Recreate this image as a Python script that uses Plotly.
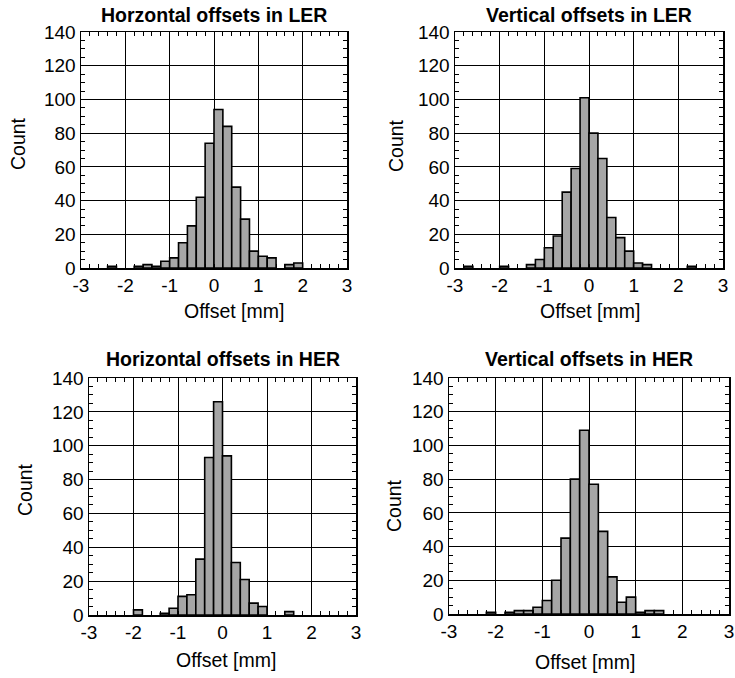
import plotly.graph_objects as go

# bin left edges (mm) and counts, bin width 0.2 mm
ler_h_edges = [-2.4, -1.8, -1.6, -1.4, -1.2, -1.0, -0.8, -0.6, -0.4, -0.2, 0.0, 0.2, 0.4, 0.6, 0.8, 1.0, 1.2, 1.6, 1.8]
ler_h_counts = [1, 1, 2, 1, 4, 6, 15, 25, 42, 74, 94, 84, 48, 29, 10, 7, 6, 2, 3]

ler_v_edges = [-2.8, -2.0, -1.4, -1.2, -1.0, -0.8, -0.6, -0.4, -0.2, 0.0, 0.2, 0.4, 0.6, 0.8, 1.0, 1.2, 2.2]
ler_v_counts = [1, 1, 2, 5, 12, 19, 45, 59, 101, 80, 65, 30, 18, 10, 3, 2, 1]

her_h_edges = [-2.0, -1.4, -1.2, -1.0, -0.8, -0.6, -0.4, -0.2, 0.0, 0.2, 0.4, 0.6, 0.8, 1.4]
her_h_counts = [3, 1, 4, 11, 12, 33, 93, 126, 94, 31, 21, 7, 5, 2]

her_v_edges = [-2.2, -1.8, -1.6, -1.4, -1.2, -1.0, -0.8, -0.6, -0.4, -0.2, 0.0, 0.2, 0.4, 0.6, 0.8, 1.0, 1.2, 1.4]
her_v_counts = [1, 1, 2, 2, 4, 8, 20, 45, 80, 109, 77, 49, 22, 7, 10, 1, 2, 2]

BIN_W = 0.2
titles = ["Horzontal offsets in LER", "Vertical offsets in LER",
          "Horizontal offsets in HER", "Vertical offsets in HER"]
x_tick_vals = [-3, -2, -1, 0, 1, 2, 3]
y_tick_vals = [0, 20, 40, 60, 80, 100, 120, 140]
x_title = "Offset [mm]"
y_title = "Count"

panels = [(ler_h_edges, ler_h_counts), (ler_v_edges, ler_v_counts),
          (her_h_edges, her_h_counts), (her_v_edges, her_v_counts)]

W, H = 735, 678


def fx(px):
    return px / W


def fy(py):
    return 1 - py / H


# plot areas in window pixels: (left, right, top, bottom)
areas = [(81, 347, 32, 268), (455, 723, 32, 268),
         (89, 356, 378, 615), (449, 729, 378, 614)]

FONT = "Liberation Sans, Arial, sans-serif"
TICK_SIZE = 19
TITLE_SIZE = 19.5
AXT_SIZE = 19.5
fig = go.Figure()
layout = dict(template="none", width=W, height=H, margin=dict(l=0, r=0, t=0, b=0),
              paper_bgcolor="white", plot_bgcolor="white", showlegend=False,
              font=dict(family=FONT, color="black", size=TICK_SIZE))
annotations = []

# axis title positions (window pixels)
xt_pos = [(234, 311), (590, 311), (226, 660), (585, 662)]
yt_pos = [(18, 144), (396, 146), (25, 490), (394, 505)]
title_y = [15, 15, 359, 359]

for i, ((edges, counts), (l, r, t, b)) in enumerate(zip(panels, areas)):
    n = "" if i == 0 else str(i + 1)
    centers = [e + BIN_W / 2 for e in edges]
    fig.add_trace(go.Bar(x=centers, y=counts, width=BIN_W,
                         marker=dict(color="#a6a6a6", line=dict(color="black", width=1.6)),
                         xaxis="x" + n, yaxis="y" + n))
    common = dict(showline=True, linecolor="black", linewidth=1.5, mirror="allticks",
                  showgrid=True, gridcolor="black", gridwidth=1, zeroline=False,
                  ticks="inside", ticklen=4, tickcolor="black", automargin=False,
                  tickfont=dict(size=TICK_SIZE, family=FONT, color="black"))
    layout["xaxis" + n] = dict(domain=[fx(l), fx(r)], anchor="y" + n, range=[-3, 3],
                               tickvals=x_tick_vals, ticktext=[str(v) for v in x_tick_vals],
                               minor=dict(dtick=BIN_W, ticks="inside", ticklen=4, tickcolor="black", showgrid=False),
                               **common)
    layout["yaxis" + n] = dict(domain=[fy(b), fy(t)], anchor="x" + n, range=[0, 140],
                               tickvals=y_tick_vals, ticktext=[str(v) for v in y_tick_vals],
                               minor=dict(dtick=5, ticks="inside", ticklen=4, tickcolor="black", showgrid=False),
                               **common)
    annotations.append(dict(text="<b>" + titles[i] + "</b>", x=fx((l + r) / 2), y=fy(title_y[i]),
                            xref="paper", yref="paper", showarrow=False, font=dict(size=TITLE_SIZE, family=FONT),
                            xanchor="center", yanchor="middle"))
    annotations.append(dict(text=x_title, x=fx(xt_pos[i][0]), y=fy(xt_pos[i][1]),
                            xref="paper", yref="paper", showarrow=False, font=dict(size=AXT_SIZE, family=FONT),
                            xanchor="center", yanchor="middle"))
    annotations.append(dict(text=y_title, x=fx(yt_pos[i][0]), y=fy(yt_pos[i][1]),
                            xref="paper", yref="paper", showarrow=False, textangle=-90,
                            font=dict(size=AXT_SIZE, family=FONT), xanchor="center", yanchor="middle"))

layout["annotations"] = annotations
fig.update_layout(**layout)
fig.write_html("out.html", config={"displayModeBar": False, "staticPlot": True},
               post_script="document.body.style.margin='0';document.body.style.overflow='hidden';")
